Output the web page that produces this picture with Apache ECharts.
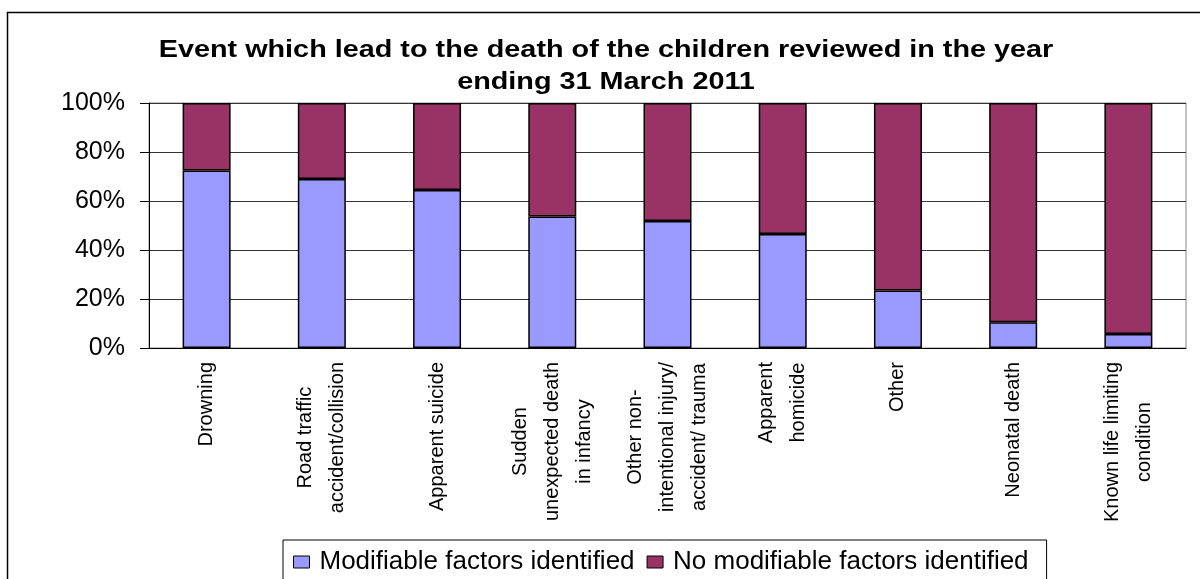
<!DOCTYPE html>
<html>
<head>
<meta charset="utf-8">
<script src="https://cdn.jsdelivr.net/npm/echarts@6/dist/echarts.min.js"></script>
<style>
  html, body { margin: 0; padding: 0; background: #fff; }
  #chart { width: 1200px; height: 579px; }
</style>
</head>
<body>
<div id="chart"></div>
<script>
// categories and values (percent)
var categories = [
    'Drowning',
    'Road traffic\naccident/collision',
    'Apparent suicide',
    'Sudden\nunexpected death\nin infancy',
    'Other non-\nintentional injury/\naccident/ trauma',
    'Apparent\nhomicide',
    'Other',
    'Neonatal death',
    'Known life limiting\ncondition'
];
var modifiable = [72.4, 69.0, 64.5, 53.7, 51.8, 46.5, 23.5, 10.5, 5.7];
var notModifiable = [27.6, 31.0, 35.5, 46.3, 48.2, 53.5, 76.5, 89.5, 94.3];
var yTicks = [0, 20, 40, 60, 80, 100];
var titleLines = ['Event which lead to the death of the children reviewed in the year', 'ending 31 March 2011'];

var font = 'Liberation Sans, Arial, sans-serif';

var chart = echarts.init(document.getElementById('chart'));

// the source picture is a little stretched sideways, so the title is scaled in x
var titleGraphic = titleLines.map(function (line, i) {
    return {
        type: 'text',
        x: 606,
        y: 50 + i * 32,
        scaleX: 1.2,
        silent: true,
        style: {
            text: line,
            fill: '#000',
            font: 'bold 24px ' + font,
            textAlign: 'center',
            textVerticalAlign: 'middle'
        }
    };
});

var option = {
    animation: false,
    legend: {
        left: 283,
        top: 540,
        padding: [9, 18, 30, 10],
        borderColor: '#000',
        borderWidth: 1,
        itemWidth: 16,
        itemHeight: 12,
        itemGap: 12,
        icon: 'rect',
        itemStyle: { borderColor: '#000', borderWidth: 1 },
        textStyle: { fontFamily: font, fontSize: 26, color: '#000', padding: [0, 0, 0, 5] },
        data: ['Modifiable factors identified', 'No modifiable factors identified']
    },
    grid: {
        left: 149,
        right: 14,
        top: 103,
        bottom: 231,
        show: true,
        borderColor: '#888',
        borderWidth: 1
    },
    xAxis: {
        type: 'category',
        data: categories,
        axisLine: { lineStyle: { color: '#000', width: 1 } },
        axisTick: { length: 8, lineStyle: { color: '#000' } },
        axisLabel: {
            interval: 0,
            rotate: 90,
            margin: 14,
            color: '#000',
            fontFamily: font,
            fontSize: 20,
            lineHeight: 32,
            formatter: function (v) {
                return v.split('\n').map(function (s) { return '{c|' + s + '}'; }).join('\n');
            },
            rich: {
                c: { align: 'center', fontFamily: font, fontSize: 20, lineHeight: 32, color: '#000' }
            }
        }
    },
    yAxis: {
        type: 'value',
        min: yTicks[0],
        max: yTicks[yTicks.length - 1],
        interval: 20,
        axisLine: { show: true, lineStyle: { color: '#000', width: 1 } },
        axisTick: { show: true, length: 9, lineStyle: { color: '#000' } },
        splitLine: { lineStyle: { color: '#333', width: 1 } },
        axisLabel: {
            margin: 24,
            color: '#000',
            fontFamily: font,
            fontSize: 25,
            formatter: '{value}%'
        }
    },
    series: [{
        name: 'Modifiable factors identified',
        type: 'bar',
        stack: 'total',
        barWidth: 48,
        data: modifiable,
        itemStyle: { color: '#9999FF', borderColor: '#000', borderWidth: 1.5 }
    }, {
        name: 'No modifiable factors identified',
        type: 'bar',
        stack: 'total',
        barWidth: 48,
        data: notModifiable,
        itemStyle: { color: '#993366', borderColor: '#000', borderWidth: 1.5 }
    }],
    graphic: [{
        type: 'rect',
        shape: { x: 7.5, y: 12.5, width: 1220, height: 600 },
        style: { fill: 'none', stroke: '#000', lineWidth: 1.5 },
        silent: true
    }].concat(titleGraphic)
};

chart.setOption(option);
</script>
</body>
</html>
